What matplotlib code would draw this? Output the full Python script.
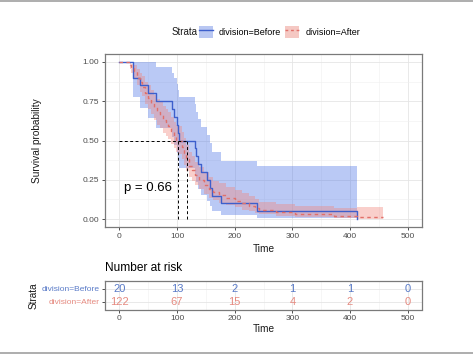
import matplotlib
matplotlib.use("Agg")
import matplotlib.pyplot as plt
from matplotlib.lines import Line2D
from matplotlib.patches import Patch
from matplotlib.ticker import MultipleLocator

plt.rcParams['font.family'] = ['Liberation Sans', 'DejaVu Sans']

# Kaplan-Meier steps
before_time = [0, 24, 35, 50, 64, 91, 95, 100.5, 101.5, 103, 131, 133, 137, 141,
               152, 157, 161, 176, 238, 413]
before_surv = [1, 0.90, 0.85, 0.80, 0.75, 0.70, 0.65, 0.60, 0.55, 0.50, 0.45, 0.40,
               0.35, 0.30, 0.25, 0.20, 0.15, 0.10, 0.05, 0.0]
before_lower = [1, 0.777, 0.707, 0.643, 0.582, 0.525, 0.471, 0.419, 0.370, 0.323,
                0.277, 0.234, 0.193, 0.154, 0.117, 0.083, 0.053, 0.027, 0.007, 0.007]
before_upper = [1, 1, 1, 0.996, 0.966, 0.932, 0.897, 0.858, 0.818, 0.775, 0.730,
                0.684, 0.636, 0.586, 0.534, 0.481, 0.426, 0.372, 0.338, 0.338]

after_time = [0, 18, 20, 25, 30, 35, 40, 45, 50, 55, 60, 65, 70, 75, 80, 85, 90, 95,
              99, 101, 108, 112, 116, 121, 126, 132, 138, 146, 155, 163, 172, 185,
              200, 212, 225, 235, 242, 272, 305, 372, 413, 458]
after_surv = [1, 0.98, 0.96, 0.94, 0.90, 0.87, 0.84, 0.80, 0.77, 0.74, 0.71, 0.68,
              0.66, 0.63, 0.61, 0.59, 0.56, 0.53, 0.505, 0.495, 0.46, 0.42, 0.38,
              0.34, 0.31, 0.28, 0.25, 0.22, 0.19, 0.17, 0.155, 0.135, 0.117, 0.10,
              0.085, 0.07, 0.058, 0.045, 0.032, 0.021, 0.011, 0.011]
after_lower = [1, 0.955, 0.93, 0.90, 0.85, 0.81, 0.78, 0.73, 0.70, 0.67, 0.63, 0.60,
               0.58, 0.55, 0.53, 0.51, 0.48, 0.45, 0.425, 0.415, 0.38, 0.345, 0.305,
               0.27, 0.24, 0.215, 0.19, 0.16, 0.135, 0.12, 0.105, 0.09, 0.075, 0.06,
               0.05, 0.04, 0.03, 0.022, 0.013, 0.007, 0.002, 0.002]
after_upper = [1, 1.0, 0.985, 0.98, 0.955, 0.93, 0.91, 0.875, 0.85, 0.82, 0.79, 0.765,
               0.745, 0.72, 0.70, 0.68, 0.65, 0.62, 0.60, 0.59, 0.555, 0.515, 0.47,
               0.43, 0.40, 0.365, 0.33, 0.30, 0.265, 0.245, 0.23, 0.205, 0.185, 0.165,
               0.145, 0.125, 0.11, 0.095, 0.085, 0.07, 0.08, 0.08]

median_before = 117
median_after = 101

risk_times = [0, 100, 200, 300, 400, 500]
risk_before = [20, 13, 2, 1, 1, 0]
risk_after = [122, 67, 15, 4, 2, 0]

c_before = '#3D5FCC'
c_after = '#E0706A'
band_before = '#B9C7F2'
band_after = '#F5C8C3'

W, H = 473, 355
fig = plt.figure(figsize=(W / 100, H / 100), dpi=100)

# ---- survival curves
ax = fig.add_axes([105 / W, 1 - 227 / H, 317 / W, 173 / H])
ax.fill_between(before_time, before_lower, before_upper, step='post',
                color='#4A72E6', alpha=0.38, lw=0)
ax.fill_between(after_time, after_lower, after_upper, step='post',
                color='#F0877E', alpha=0.4, lw=0)
ax.step(before_time, before_surv, where='post', color=c_before, lw=1.0)
ax.step(after_time, after_surv, where='post', color=c_after, lw=1.0,
        linestyle=(0, (2.5, 2.5)))

# median lines
ax.plot([0, median_before], [0.5, 0.5], color='black', lw=0.7, ls=(0, (3, 2.5)))
for m in (median_after, median_before):
    ax.plot([m, m], [0, 0.5], color='black', lw=0.7, ls=(0, (3, 2.5)))

ax.text(8, 0.2, 'p = 0.66', fontsize=9.5, ha='left', va='center', color='black')

ax.set_xlim(-25, 525)
ax.set_ylim(-0.05, 1.05)
ax.set_xticks(risk_times)
ax.set_yticks([0, 0.25, 0.5, 0.75, 1.0])
ax.set_yticklabels(['0.00', '0.25', '0.50', '0.75', '1.00'])
ax.xaxis.set_minor_locator(MultipleLocator(50))
ax.yaxis.set_minor_locator(MultipleLocator(0.125))
ax.grid(True, which='major', color='#E5E5E5', lw=0.6)
ax.grid(True, which='minor', color='#F0F0F0', lw=0.4)
ax.set_axisbelow(True)
ax.tick_params(which='minor', length=0)
ax.tick_params(which='major', length=2.5, width=0.6, color='#333333',
               labelcolor='#4D4D4D', labelsize=6, pad=1.5)
for s in ax.spines.values():
    s.set_color('#7A7A7A')
    s.set_linewidth(0.9)
ax.set_xlabel('Time', fontsize=7.3, color='#1A1A1A')
ax.xaxis.set_label_coords(0.5, -0.098)
ax.set_ylabel('Survival probability', fontsize=7.3, color='#1A1A1A')
ax.yaxis.set_label_coords(-0.2145, 0.5)
ax.yaxis.label.set_va('center')

# ---- legend
handles = [(Patch(facecolor=band_before, edgecolor='none'),
            Line2D([], [], color=c_before, lw=1.0)),
           (Patch(facecolor=band_after, edgecolor='none'),
            Line2D([], [], color=c_after, lw=1.0, ls=(0, (2, 2))))]
fig.legend(handles, ['division=Before', 'division=After'], ncol=2,
           loc='center', bbox_to_anchor=(279.5 / W, 1 - 32 / H), frameon=False,
           fontsize=6.5, handlelength=1.55, handleheight=1.66, handletextpad=0.66,
           columnspacing=0.45, borderpad=0, borderaxespad=0)
fig.text(198 / W, 1 - 32 / H, 'Strata', fontsize=7, ha='right', va='center',
         color='#1A1A1A')

# ---- risk table
rt = fig.add_axes([105 / W, 1 - 309.5 / H, 317 / W, 28.5 / H])
for t, nb, na in zip(risk_times, risk_before, risk_after):
    rt.text(t, 2, str(nb), color='#5A7BC8', fontsize=8, ha='center', va='center')
    rt.text(t, 1, str(na), color='#E58A80', fontsize=8, ha='center', va='center')
rt.set_xlim(-25, 525)
rt.set_ylim(0.4, 2.6)
rt.set_xticks(risk_times)
rt.set_yticks([1, 2])
rt.set_yticklabels(['division=After', 'division=Before'])
for lab, col in zip(rt.get_yticklabels(), ['#E58A80', '#5A7BC8']):
    lab.set_color(col)
rt.xaxis.set_minor_locator(MultipleLocator(50))
rt.grid(True, which='major', axis='x', color='#E5E5E5', lw=0.6)
rt.grid(True, which='minor', axis='x', color='#F0F0F0', lw=0.4)
rt.grid(True, which='major', axis='y', color='#E5E5E5', lw=0.6)
rt.set_axisbelow(True)
rt.tick_params(which='minor', length=0)
rt.tick_params(axis='x', which='major', length=2.5, width=0.6, color='#333333',
               labelcolor='#4D4D4D', labelsize=6, pad=1.5)
rt.tick_params(axis='y', which='major', length=2.5, width=0.6, color='#333333',
               labelsize=6, pad=1.5)
for s in rt.spines.values():
    s.set_color('#7A7A7A')
    s.set_linewidth(0.9)
rt.set_xlabel('Time', fontsize=7.3, color='#1A1A1A')
rt.xaxis.set_label_coords(0.5, -0.52)
rt.set_ylabel('Strata', fontsize=7.2, color='#1A1A1A')
rt.yaxis.set_label_coords(-0.224, 0.5)
rt.yaxis.label.set_va('center')
fig.text(105 / W, 1 - 268 / H, 'Number at risk', fontsize=8.6, ha='left',
         va='center', color='black')

# frame lines at top and bottom of the image
fig.add_artist(Line2D([0, 1], [1 - 0.8 / H, 1 - 0.8 / H], color='#A0A0A0', lw=1.2))
fig.add_artist(Line2D([0, 1], [1 - 353 / H, 1 - 353 / H], color='#A0A0A0', lw=1.2))

fig.savefig('out.png', dpi=100)
